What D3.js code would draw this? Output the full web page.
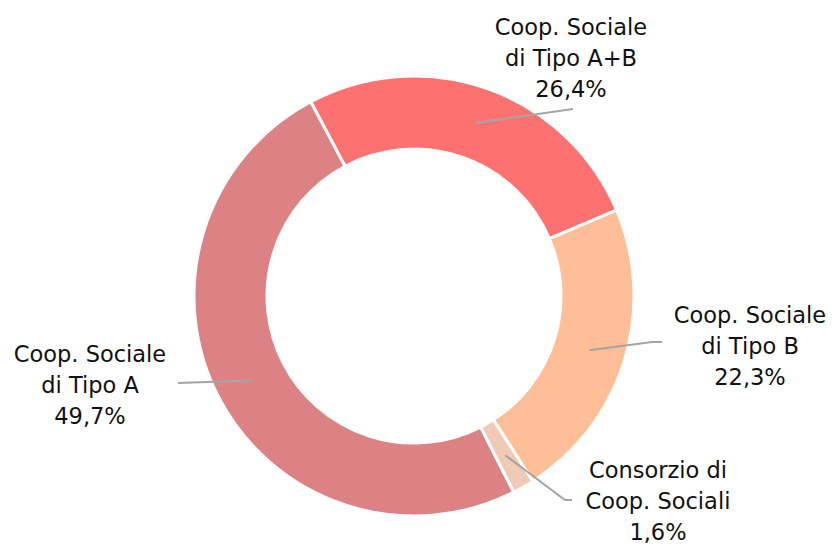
<!DOCTYPE html>
<html>
<head>
<meta charset="utf-8">
<script src="https://cdn.jsdelivr.net/npm/d3@7"></script>
<style>
  body { margin: 0; background: #fff; }
  text { font-family: "DejaVu Sans", Verdana, sans-serif; }
</style>
</head>
<body>
<script>
var categories = ["Coop. Sociale di Tipo A+B", "Coop. Sociale di Tipo B", "Consorzio di Coop. Sociali", "Coop. Sociale di Tipo A"];
var labelLines = [["Coop. Sociale", "di Tipo A+B"], ["Coop. Sociale", "di Tipo B"], ["Consorzio di", "Coop. Sociali"], ["Coop. Sociale", "di Tipo A"]];
var shares = [26.4, 22.3, 1.6, 49.7];
var colors = ["#fe7171", "#fdbe98", "#efcbb6", "#dc8285"];

var width = 836, height = 548;
var cx = 414, cy = 296;
var outerR = 220, innerR = 147;
var startDeg = -28;

// label anchor (centre x, first baseline) and leader end points
var labelPos = [
  {x: 571, y: 35, path: [[573, 109]]},
  {x: 750, y: 323, path: [[652, 342], [662, 342]]},
  {x: 658, y: 478, path: [[565, 500], [572, 500]]},
  {x: 90, y: 362, path: [[178, 383]]}
];

var svg = d3.select("body").append("svg")
  .attr("width", width)
  .attr("height", height);

var g = svg.append("g").attr("transform", `translate(${cx},${cy})`);

var pie = d3.pie()
  .value(d => d)
  .sort(null)
  .startAngle(startDeg * Math.PI / 180)
  .endAngle(startDeg * Math.PI / 180 + 2 * Math.PI);

var arc = d3.arc().innerRadius(innerR).outerRadius(outerR);
var arcs = pie(shares);

g.selectAll("path.slice")
  .data(arcs)
  .enter().append("path")
  .attr("class", "slice")
  .attr("d", arc)
  .attr("fill", (d, i) => colors[i])
  .attr("stroke", "#fff")
  .attr("stroke-width", 3);

var fmt = v => v.toFixed(1).replace(".", ",") + "%";

arcs.forEach(function(d, i) {
  var c = arc.centroid(d);
  var pts = [[cx + c[0], cy + c[1]]].concat(labelPos[i].path);
  svg.append("path")
    .attr("d", d3.line()(pts))
    .attr("fill", "none")
    .attr("stroke", "#a5a5a5")
    .attr("stroke-width", 2);

  var lines = labelLines[i].concat([fmt(shares[i])]);
  var t = svg.append("text")
    .attr("x", labelPos[i].x)
    .attr("y", labelPos[i].y)
    .attr("text-anchor", "middle")
    .attr("font-size", 22.5)
    .attr("fill", "#111");
  lines.forEach(function(s, j) {
    t.append("tspan")
      .attr("x", labelPos[i].x)
      .attr("dy", j === 0 ? 0 : 31)
      .text(s);
  });
});
</script>
</body>
</html>
